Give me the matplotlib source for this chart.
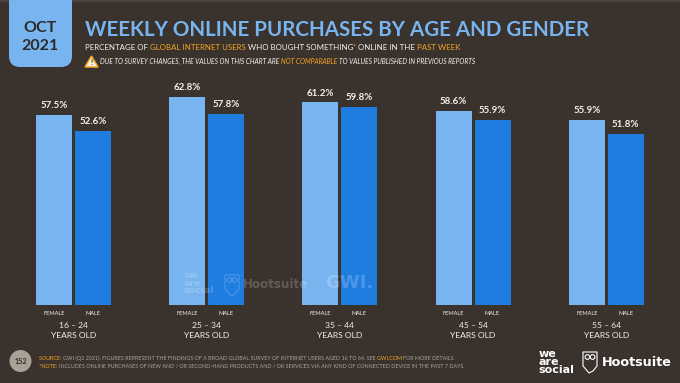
import matplotlib
matplotlib.use('Agg')
import matplotlib.pyplot as plt
from matplotlib.patches import FancyBboxPatch, Polygon, Circle, Rectangle
import numpy as np

ages = ['16 – 24', '25 – 34', '35 – 44', '45 – 54', '55 – 64']
female = [57.5, 62.8, 61.2, 58.6, 55.9]
male = [52.6, 57.8, 59.8, 55.9, 51.8]

bg = '#3a322d'
light = '#78b5f0'
dark = '#1f7de0'
orange = '#f5a623'
white = '#f4f1ee'
grey = '#aaa39c'

plt.rcParams['font.family'] = ['Lato', 'DejaVu Sans']

fig = plt.figure(figsize=(6.8, 3.83), dpi=100, facecolor=bg)

# bars, in data units: one x unit is one age group, y is percent
ax = fig.add_axes([0, 78 / 383, 1, 305 / 383], facecolor='none')
x = np.arange(len(ages))
w = 0.27
off = 0.146
b1 = ax.bar(x - off, female, w, color=light)
b2 = ax.bar(x + off, male, w, color=dark)
ax.set_xlim(-73.5 / 133.2, (680 - 73.5) / 133.2)
ax.set_ylim(0, 305 / 3.31)
for s in ax.spines.values():
    s.set_visible(False)
ax.set_yticks([])

ax.bar_label(b1, labels=[f'{v:.1f}%' for v in female], padding=3.5, color=white,
             fontsize=7, fontweight='bold')
ax.bar_label(b2, labels=[f'{v:.1f}%' for v in male], padding=3.5, color=white,
             fontsize=7, fontweight='bold')

pos = np.concatenate([x - off, x + off])
ax.set_xticks(pos, ['FEMALE'] * 5 + ['MALE'] * 5)
ax.tick_params(axis='x', which='major', length=0, pad=4.2, labelsize=4.1, labelcolor=white)
ax.set_xticks(x, [a + '\nYEARS OLD' for a in ages], minor=True)
ax.tick_params(axis='x', which='minor', length=0, pad=12.5, labelsize=6.1, labelcolor=white)
for t in ax.get_xticklabels(minor=True):
    t.set_linespacing(1.5)

# everything else is placed in pixels of the slide
ov = fig.add_axes([0, 0, 1, 1], facecolor='none')
ov.set_xlim(0, 680)
ov.set_ylim(383, 0)
ov.axis('off')
ov.add_patch(Rectangle((0, 0), 680, 1.5, color='#4a4540', lw=0))
ov.add_patch(FancyBboxPatch((9, -20), 63, 87, boxstyle='round,pad=0,rounding_size=11',
                            fc=light, ec='none'))
ov.text(40.5, 28, 'OCT', ha='center', va='center', fontsize=11.5, fontweight='bold', color='#2d2a28')
ov.text(40.5, 46, '2021', ha='center', va='center', fontsize=11.5, fontweight='bold', color='#2d2a28')
ov.text(85, 29.5, 'WEEKLY ONLINE PURCHASES BY AGE AND GENDER', ha='left', va='center',
        fontsize=14.8, fontweight='bold', color=light)


def segments(x0, y, parts, size, **kw):
    # draws coloured pieces of one line next to each other
    r = fig.canvas.get_renderer()
    for txt, col in parts:
        t = ov.text(x0, y, txt, ha='left', va='center', fontsize=size, color=col, **kw)
        x0 += t.get_window_extent(r).width


segments(85, 48, [('PERCENTAGE OF ', white), ('GLOBAL INTERNET USERS ', orange),
                  ('WHO BOUGHT SOMETHING', white), ('* ', orange),
                  ('ONLINE IN THE ', white), ('PAST WEEK', orange)], 5.7)
segments(100, 61.5, [('DUE TO SURVEY CHANGES, THE VALUES ON THIS CHART ARE ', white),
                     ('NOT COMPARABLE ', orange),
                     ('TO VALUES PUBLISHED IN PREVIOUS REPORTS', white)], 4.8, style='italic')
ov.add_patch(Polygon([[85, 67], [98, 67], [91.5, 56]], closed=True, fc='#fdf3df', ec=orange, lw=1.1))
ov.text(91.5, 62.6, '!', ha='center', va='center', fontsize=5.5, fontweight='bold', color='#2d2a28')

# footer
ov.add_patch(Circle((20.5, 361), 11, fc='#aaa196', ec='none'))
ov.text(20.5, 361, '152', ha='center', va='center', fontsize=5.2, fontweight='bold', color='#2d2a28')
segments(39, 358.5, [('SOURCE: ', orange),
                     ('GWI (Q2 2021). FIGURES REPRESENT THE FINDINGS OF A BROAD GLOBAL SURVEY OF INTERNET USERS AGED 16 TO 64. SEE ', grey),
                     ('GWI.COM ', orange), ('FOR MORE DETAILS.', grey)], 3.85)
segments(39, 366, [('*NOTE: ', orange),
                   ('INCLUDES ONLINE PURCHASES OF NEW AND / OR SECOND-HAND PRODUCTS AND / OR SERVICES VIA ANY KIND OF CONNECTED DEVICE IN THE PAST 7 DAYS.', grey)], 3.85)


def owl(cx, cy, s, col, alpha=1.0):
    # small outline of the Hootsuite owl
    pts = [[-7, -10], [7, -10], [7, 4], [3, 9], [-1, 11], [-7, 4]]
    ov.add_patch(Polygon(np.array(pts) * s + [cx, cy], closed=True, fc='none', ec=col, lw=0.8, alpha=alpha))
    for dx in (-2.6, 2.6):
        ov.add_patch(Circle((cx + dx * s, cy - 5 * s), 2.3 * s, fc='none', ec=col, lw=0.8, alpha=alpha))


def brand(x1, y1, size1, x2, y2, x3, size2, col, alpha=1.0):
    ov.text(x1, y1, 'we\nare\nsocial', ha='left', va='center', fontsize=size1, fontweight='bold',
            color=col, alpha=alpha, linespacing=0.72, family='DejaVu Sans')
    owl(x2, y2, 1.0, col, alpha)
    ov.text(x3, y2, 'Hootsuite', ha='left', va='center', fontsize=size2, fontweight='bold',
            color=col, alpha=alpha, family='DejaVu Sans')


brand(538.5, 362, 8.0, 590, 362, 602, 9.2, '#ffffff')

# faint watermarks across the middle bars
brand(184, 283, 6.8, 232, 285, 243, 8.6, '#ffffff', 0.2)
ov.text(325, 283, 'GWI.', ha='left', va='center', fontsize=13, fontweight='bold', color='#ffffff',
        alpha=0.2, family='DejaVu Sans')

fig.savefig('out.png', dpi=100, facecolor=bg)
